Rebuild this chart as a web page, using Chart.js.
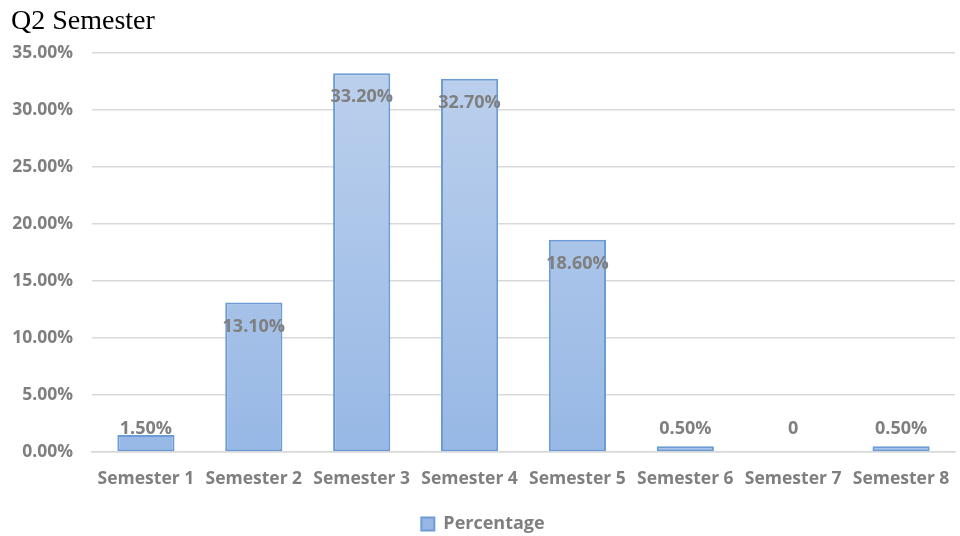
<!DOCTYPE html>
<html>
<head>
<meta charset="utf-8">
<title>Q2 Semester</title>
<script src="https://cdn.jsdelivr.net/npm/chart.js@4"></script>
<style>
  html, body { margin: 0; padding: 0; background: #fff; }
  #wrap { width: 960px; height: 536px; position: relative; }
</style>
</head>
<body>
<div id="wrap"><canvas id="semester-chart"></canvas></div>
<script>
const semesters = ['Semester 1', 'Semester 2', 'Semester 3', 'Semester 4', 'Semester 5', 'Semester 6', 'Semester 7', 'Semester 8'];
const percentages = [1.5, 13.1, 33.2, 32.7, 18.6, 0.5, 0, 0.5];
const valueLabels = ['1.50%', '13.10%', '33.20%', '32.70%', '18.60%', '0.50%', '0', '0.50%'];
const yTicks = [0, 5, 10, 15, 20, 25, 30, 35];

const labelFont = '"Open Sans", "Liberation Sans", sans-serif';

// value labels sit just inside the top of each bar, or above short ones
const barValueLabels = {
    id: 'barValueLabels',
    afterDatasetsDraw(chart) {
        const ctx = chart.ctx;
        const meta = chart.getDatasetMeta(0);
        const zeroY = chart.scales.y.getPixelForValue(0);
        ctx.save();
        ctx.font = 'bold 18px ' + labelFont;
        ctx.fillStyle = '#7f7f7f';
        ctx.textAlign = 'center';
        ctx.textBaseline = 'middle';
        meta.data.forEach((bar, i) => {
            const y = Math.min(bar.y + 24, zeroY - 23);
            ctx.fillText(valueLabels[i], bar.x, y);
        });
        ctx.restore();
    }
};

function barFill(context) {
    const area = context.chart.chartArea;
    if (!area) return '#a9c4ea';
    const g = context.chart.ctx.createLinearGradient(0, area.top, 0, area.bottom);
    g.addColorStop(0, '#bdd1ed');
    g.addColorStop(1, '#97b8e5');
    return g;
}

new Chart(document.getElementById('semester-chart'), {
    type: 'bar',
    data: {
        labels: semesters,
        datasets: [{
            label: 'Percentage',
            data: percentages,
            backgroundColor: barFill,
            borderColor: '#6d9bd6',
            borderWidth: 2,
            borderSkipped: false,
            categoryPercentage: 1,
            barPercentage: 0.53
        }]
    },
    options: {
        responsive: true,
        maintainAspectRatio: false,
        animation: false,
        layout: { padding: { left: 11, right: 5, top: 0, bottom: -7 } },
        plugins: {
            title: {
                display: true,
                text: 'Q2 Semester',
                align: 'start',
                color: '#000',
                font: { family: '"Liberation Serif", "DejaVu Serif", serif', size: 28, weight: 'normal' },
                padding: { top: 5, bottom: 14 }
            },
            legend: {
                display: true,
                position: 'bottom',
                labels: {
                    color: '#7f7f7f',
                    font: { family: labelFont, size: 18, weight: 'bold' },
                    boxWidth: 13,
                    boxHeight: 13,
                    padding: 6
                }
            },
            tooltip: { enabled: false }
        },
        scales: {
            x: {
                grid: { display: false },
                border: { color: '#d9d9d9', width: 1.5 },
                ticks: {
                    color: '#7f7f7f',
                    font: { family: labelFont, size: 17.5, weight: 'bold' },
                    maxRotation: 0,
                    padding: 9
                },
                afterFit(axis) {
                    axis.height += 10;
                }
            },
            y: {
                min: 0,
                max: 35,
                afterBuildTicks(axis) {
                    axis.ticks = yTicks.map(v => ({ value: v }));
                },
                afterFit(axis) {
                    axis.width = 81;
                },
                grid: { color: '#d9d9d9', lineWidth: 1.5, drawTicks: false },
                border: { display: false },
                ticks: {
                    color: '#7f7f7f',
                    font: { family: labelFont, size: 17.5, weight: 'bold' },
                    padding: 19,
                    callback: v => v.toFixed(2) + '%'
                }
            }
        }
    },
    plugins: [barValueLabels]
});
</script>
</body>
</html>
